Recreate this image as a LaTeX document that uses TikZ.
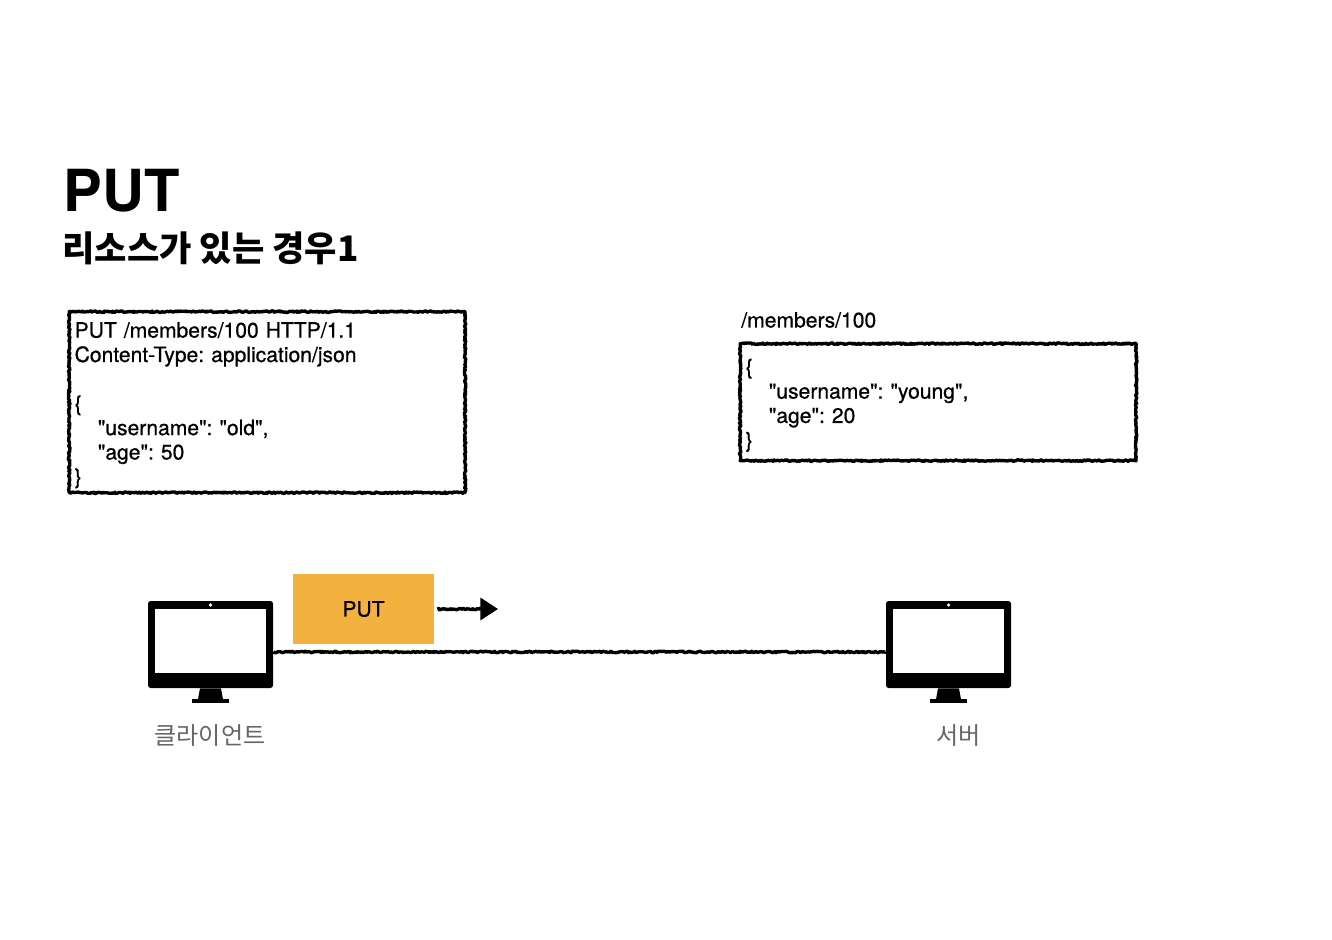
\documentclass[tikz,border=0pt]{standalone}
\usepackage{fontspec}
\setmainfont{TeX Gyre Heros}[Ligatures=TeXOff]
\newfontfamily\bodyfont{TeX Gyre Heros}[Ligatures=TeXOff,FakeBold=0.7]
\newfontfamily\krfont{Noto Sans CJK KR}
\usetikzlibrary{arrows.meta,calc,decorations.pathmorphing}
\definecolor{boxorange}{RGB}{243,177,63}
\definecolor{labelgray}{RGB}{102,102,102}
\newcommand{\indentjson}{\hspace*{13.2pt}}
\newcommand{\toppad}{\rule{0pt}{12.3pt}}

\begin{document}
\begin{tikzpicture}[
  sketch/.style={decorate, line join=round, decoration={random steps, segment length=0.7pt, amplitude=0.45pt}},
  jsonbox/.style={draw, sketch, line width=1.9pt, rectangle, anchor=north west, minimum width=7.92cm, inner sep=0pt, align=left, text width=7.7cm, font=\bodyfont\frenchspacing\fontsize{12}{13.87}\selectfont},
  wire/.style={draw, sketch, line width=1.9pt},
  arr/.style={wire, decoration={post length=4pt}, -{Triangle[length=10pt, width=12.5pt]}},
  screen/.style={rectangle, fill=white, minimum width=2.22cm, minimum height=1.28cm, inner sep=0pt},
  monitor/.style={rectangle, fill=black, rounded corners=1.5pt, minimum width=2.5cm, minimum height=1.74cm, inner sep=0pt},
  hostlabel/.style={font=\krfont\fontsize{13.7}{16}\selectfont, text=labelgray, inner sep=0pt}
]
\useasboundingbox (0,0) rectangle (26.64,-18.8);

% titles
\node[anchor=west, inner sep=0pt, font=\fontsize{33}{40}\selectfont\bfseries] (title) at (1.27,-3.82) {PUT};
\node[anchor=west, inner sep=0pt, font=\krfont\fontsize{20}{24}\selectfont\bfseries] (subtitle) at (1.24,-4.96) {리소스가 있는 경우1};

% message and resource
\node[jsonbox, minimum height=3.62cm] (request) at (1.35,-6.2) {\toppad PUT /members/100 HTTP/1.1\\Content-Type: application/json\\\mbox{}\\\{\\\indentjson"username": "old",\\\indentjson"age": 50\\\}};
\node[anchor=west, inner sep=0pt, font=\bodyfont\fontsize{12}{14}\selectfont] (path) at (14.82,-6.4) {/members/100};
\node[jsonbox, minimum height=2.34cm] (resource) at (14.77,-6.84) {\toppad\{\\\indentjson"username": "young",\\\indentjson"age": 20\\\}};

% client and server
\foreach \name/\mx/\lx/\txt in {client/4.21/4.2/클라이언트, server/18.97/19.17/서버} {
  \node[monitor] (\name) at (\mx,-12.89) {};
  \node[screen] (\name-screen) at (\mx,-12.82) {};
  \node[circle, fill=white, inner sep=0pt, minimum size=2pt] (\name-dot) at (\mx,-12.1) {};
  \fill ($(\name.south)+(-0.21,0)$) -- ($(\name.south)+(0.21,0)$) -- ($(\name.south)+(0.25,-0.22)$) -- ($(\name.south)+(-0.25,-0.22)$) -- cycle;
  \fill ($(\name.south)+(-0.37,-0.22)$) rectangle ($(\name.south)+(0.37,-0.3)$);
  \node[hostlabel] (\name-label) at (\lx,-14.7) {\txt};
}
\draw[wire] ([yshift=-0.15cm]client.east) -- ([yshift=-0.15cm]server.west);

% request on the wire
\node[rectangle, fill=boxorange, minimum width=2.82cm, minimum height=1.4cm, inner sep=0pt, font=\bodyfont\fontsize{12}{14}\selectfont] (putmsg) at (7.27,-12.18) {\raisebox{-0.8pt}{PUT}};
\coordinate (puttip) at (9.96,-12.18);
\draw[arr] ([xshift=0.06cm]putmsg.east) -- (puttip);
\end{tikzpicture}
\end{document}
